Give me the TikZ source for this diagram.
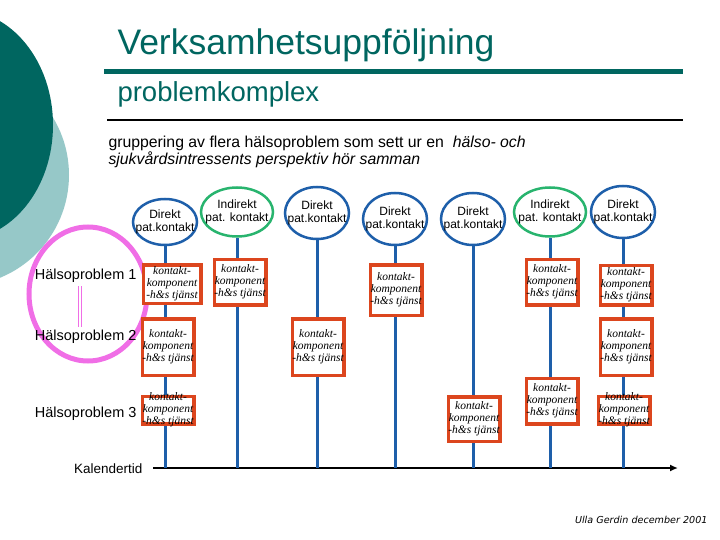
\documentclass[tikz,border=0pt]{standalone}
\usepackage{fontspec}
\setmainfont{Liberation Sans}
\newfontfamily\kompfont{Liberation Serif}
\newfontfamily\signfont{DejaVu Sans}
\usetikzlibrary{shapes.geometric,arrows.meta}

\definecolor{morkteal}{RGB}{0,102,96}
\definecolor{ljusteal}{RGB}{150,200,200}
\definecolor{rosa}{RGB}{240,110,230}
\definecolor{kblue}{RGB}{30,95,170}
\definecolor{kgreen}{RGB}{40,180,110}
\definecolor{kred}{RGB}{220,70,30}

% two centred lines of zero width, so the ellipse keeps its own size
\newcommand{\patkontakt}[2]{\makebox[0pt]{#1}\\\makebox[0pt]{#2}}
% text of a contact component, box height as optional argument
\newcommand{\komptext}[1][40pt]{\parbox[c][#1][c]{0pt}{\centering
    \makebox[0pt]{kontakt-}\\\makebox[0pt]{komponent}\\\makebox[0pt]{-h\&s tjänst}}}

\tikzset{
  direkt/.style={ellipse, draw=kblue, line width=2.5pt, fill=white, minimum width=64pt, minimum height=49pt,
    inner sep=0pt, align=center, font=\fontsize{12}{13}\selectfont},
  indirekt/.style={direkt, draw=kgreen, minimum width=72pt},
  komp/.style={rectangle, draw=kred, line width=3.5pt, fill=white, inner sep=0pt, minimum width=51.5pt,
    font=\kompfont\itshape\fontsize{11.5}{11.8}\selectfont},
  tidlinje/.style={kblue, line width=3pt},
  problem/.style={anchor=east, font=\fontsize{14.5}{16}\selectfont},
}

\begin{document}
\begin{tikzpicture}[x=1pt, y=-1pt]
        \useasboundingbox (0,0) rectangle (720,540);

        % background circles
        \begin{scope}
            \clip (0,0) rectangle (720,540);
            \fill[ljusteal] (-42,175) circle (111pt);
            \fill[morkteal] (-40,125) ellipse (93pt and 115pt);
        \end{scope}

        % heading
        \node[anchor=base west, text=morkteal, font=\fontsize{35.5}{38}\selectfont] (titel) at (114,55) {Verksamhetsuppföljning};
        \draw[morkteal, line width=5pt] (104,72) -- (683,72);
        \node[anchor=base west, text=morkteal, font=\fontsize{27.5}{30}\selectfont] (under) at (114,102) {problemkomplex};
        \draw[black, line width=2pt] (107,120) -- (683,120);
        \node[anchor=base west, font=\fontsize{15.8}{17}\selectfont] (sub1) at (105,148) {gruppering av flera hälsoproblem som sett ur en \ \textit{hälso- och}};
        \node[anchor=base west, font=\fontsize{15.8}{17}\selectfont] (sub2) at (105,165) {\textit{sjukvårdsintressents perspektiv hör samman}};

        % problem complex
        \draw[rosa, line width=5pt] (88,294) ellipse (59pt and 67pt);
        \node[problem] (h1) at (140,276) {Hälsoproblem 1};
        \node[problem] (h2) at (140,337) {Hälsoproblem 2};
        \node[problem] (h3) at (140,414) {Hälsoproblem 3};
        \coordinate (pk) at (80,0);
        \draw[rosa, line width=1.2pt, double=white, double distance=1.5pt] (h1.south -| pk) -- (h2.north -| pk);

        % time axis
        \coordinate (t0) at (153,468);
        \coordinate (t1) at (678,468);
        \draw[black, line width=2pt, -{Latex[length=8pt,width=7pt]}] (t0) -- (t1);
        \node[anchor=east, font=\fontsize{13.5}{15}\selectfont] (tid) at (146,469) {Kalendertid};

        % contacts
        \node[direkt, minimum height=46pt] (e1) at (165,222) {\patkontakt{Direkt}{pat.kontakt}};
        \node[indirekt] (e2) at (237,212) {\patkontakt{Indirekt}{pat. kontakt}};
        \node[direkt, minimum height=52pt] (e3) at (317,213) {\patkontakt{Direkt}{pat.kontakt}};
        \node[direkt, minimum height=52pt] (e4) at (395,219) {\patkontakt{Direkt}{pat.kontakt}};
        \node[direkt, minimum height=52pt] (e5) at (473,219) {\patkontakt{Direkt}{pat.kontakt}};
        \node[indirekt] (e6) at (550,212) {\patkontakt{Indirekt}{pat. kontakt}};
        \node[direkt, minimum height=52pt] (e7) at (623,212) {\patkontakt{Direkt}{pat.kontakt}};
        \foreach \e in {e1,e2,e3,e4,e5,e6,e7}
            \draw[tidlinje] (\e.south) -- (\e.center |- t0);

        % contact components
        \node[komp, minimum width=57.5pt] (k11) at (172,284) {\komptext[38.5pt]};
        \node[komp] (k21) at (240,282) {\komptext[45.5pt]};
        \node[komp] (k12) at (168,347) {\komptext[56.5pt]};
        \node[komp] (k32) at (318,347) {\komptext[56.5pt]};
        \node[komp] (k13) at (168,410) {\komptext[27.5pt]};
        \node[komp] (k41) at (396,290) {\komptext[50.5pt]};
        \node[komp] (k53) at (474,419) {\komptext[44.5pt]};
        \node[komp] (k61) at (552,282) {\komptext[45.5pt]};
        \node[komp] (k63) at (552,401) {\komptext[45.5pt]};
        \node[komp] (k71) at (626,285) {\komptext[39.5pt]};
        \node[komp] (k72) at (626,347) {\komptext[56.5pt]};
        \node[komp] (k73) at (624,410) {\komptext[27.5pt]};

        \node[anchor=east, font=\signfont\itshape\fontsize{9.6}{11}\selectfont] (sign) at (711,520) {Ulla Gerdin december 2001};
    \end{tikzpicture}
\end{document}
